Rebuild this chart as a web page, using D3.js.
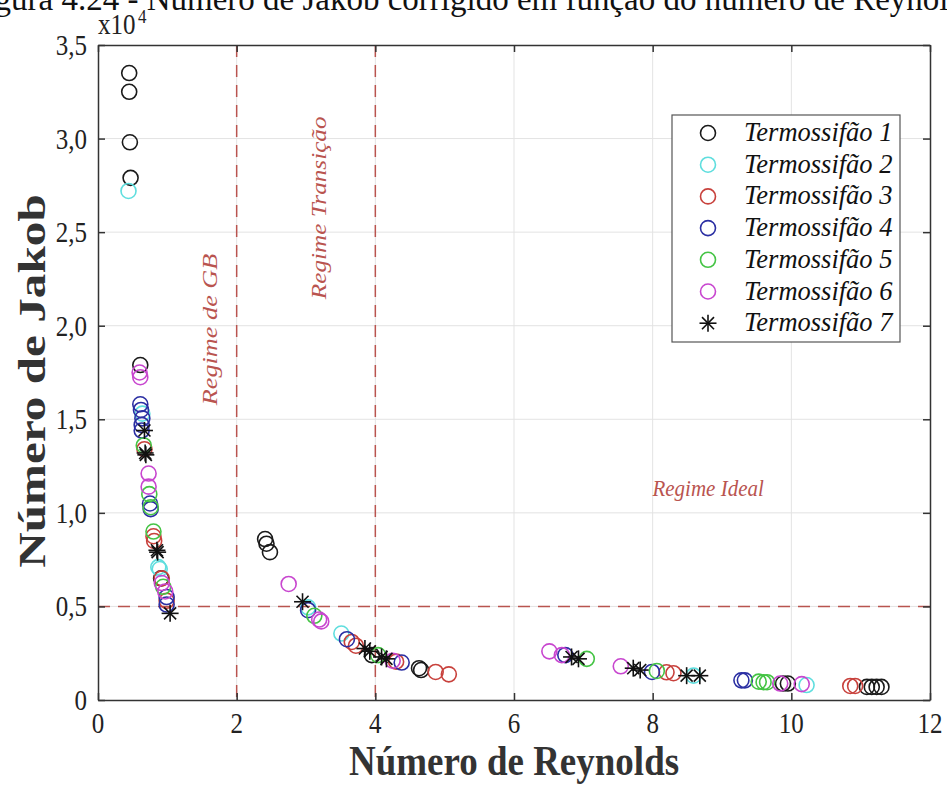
<!DOCTYPE html>
<html>
<head>
<meta charset="utf-8">
<script src="https://cdn.jsdelivr.net/npm/d3@7"></script>
<style>
  html, body { margin: 0; padding: 0; background: #fff; }
  svg { display: block; font-family: "Liberation Serif", "DejaVu Serif", serif; }
</style>
</head>
<body>
<svg id="chart" width="947" height="785"></svg>
<script>
// ---------- data (Jakob values in units of 10^4) ----------
const seriesNames = ["Termossifão 1", "Termossifão 2", "Termossifão 3", "Termossifão 4",
  "Termossifão 5", "Termossifão 6", "Termossifão 7"];
const seriesColors = ["#1a1a1a", "#5fdede", "#c8413c", "#2b2fa3", "#45c445", "#c846cf", "#111111"];

const t1 = [[0.45,3.35],[0.45,3.25],[0.46,2.98],[0.47,2.79],[0.61,1.79],[0.91,0.65],
  [2.41,0.86],[2.43,0.835],[2.48,0.79],[3.95,0.24],[4.63,0.17],[4.66,0.16],
  [9.88,0.088],[9.95,0.088],[11.09,0.07],[11.16,0.07],[11.23,0.07],[11.30,0.07]];
const t2 = [[0.44,2.72],[0.64,1.53],[0.87,0.71],[0.89,0.70],[3.03,0.495],[3.51,0.355],
  [8.59,0.13],[10.22,0.08]];
const t3 = [[0.67,1.34],[0.80,0.875],[0.81,0.85],[0.92,0.65],[0.99,0.53],[3.66,0.31],
  [3.72,0.29],[4.30,0.205],[4.87,0.15],[5.06,0.137],[8.20,0.148],[8.30,0.143],
  [10.85,0.075],[10.92,0.075]];
const t4 = [[0.61,1.58],[0.62,1.55],[0.64,1.505],[0.63,1.47],[0.63,1.44],[0.75,1.05],
  [0.76,1.02],[0.99,0.55],[0.99,0.51],[3.03,0.48],[3.59,0.325],[4.38,0.20],
  [6.74,0.24],[7.99,0.15],[9.28,0.105],[9.33,0.105]];
const t5 = [[0.66,1.36],[0.74,1.10],[0.76,1.03],[0.80,0.90],[0.94,0.605],[3.12,0.45],
  [4.04,0.24],[7.05,0.22],[8.06,0.155],[9.53,0.098],[9.60,0.095],[9.65,0.095]];
const t6 = [[0.60,1.75],[0.61,1.725],[0.73,1.21],[0.73,1.14],[0.92,0.625],[0.97,0.58],
  [2.75,0.62],[3.19,0.43],[3.22,0.42],[4.25,0.21],[6.51,0.26],[6.69,0.24],
  [7.54,0.18],[9.84,0.088],[10.15,0.085]];
const t7 = [[0.67,1.44],[0.68,1.32],[0.69,1.31],[0.85,0.80],[0.86,0.79],[1.04,0.463],
  [2.95,0.525],[3.85,0.275],[3.92,0.26],[4.09,0.23],[4.16,0.22],[6.83,0.23],
  [6.93,0.22],[7.72,0.17],[7.82,0.16],[8.49,0.13],[8.68,0.13]];
const allSeries = [t1, t2, t3, t4, t5, t6, t7];

const xTicks = [0, 2, 4, 6, 8, 10, 12];
const yTicks = [0, 0.5, 1.0, 1.5, 2.0, 2.5, 3.0, 3.5];
const regimeX = [2, 4];       // vertical dashed limits
const regimeY = [0.5];        // horizontal dashed limit

// ---------- layout ----------
const svg = d3.select("#chart");
const mLeft = 98, mRight = 930, mTop = 45, mBottom = 700;
const x = d3.scaleLinear().domain([0, 12]).range([mLeft, mRight]);
const y = d3.scaleLinear().domain([0, 3.5]).range([mBottom, mTop]);
const fmt = (d) => d === 0 ? "0" : d3.format(".1f")(d).replace(".", ",");
const regimeColor = "#b9544f";

// text placed at (px, py), stretched vertically on screen (the source fonts look tall)
function label(px, py, str, opts = {}) {
  const t = svg.append("text")
    .attr("transform", `translate(${px},${py}) scale(1,${opts.sy || 1})${opts.rot ? " rotate(-90)" : ""}`)
    .attr("text-anchor", opts.anchor || "start")
    .attr("font-size", opts.size || 20)
    .attr("fill", opts.fill || "#222")
    .text(str);
  if (opts.italic) t.attr("font-style", "italic");
  if (opts.bold) t.attr("font-weight", "bold");
  return t;
}

// caption of the figure, cut at the top of the picture
label(-33, 10, "Figura 4.24 - Número de Jakob corrigido em função do número de Reynolds",
  { size: 33, fill: "#111" });

// grid
svg.append("g").selectAll("line").data(xTicks.slice(1, -1)).join("line")
  .attr("x1", (d) => x(d)).attr("x2", (d) => x(d))
  .attr("y1", mTop).attr("y2", mBottom)
  .attr("stroke", "#e3e3e3").attr("stroke-width", 1);
svg.append("g").selectAll("line").data(yTicks.slice(1, -1)).join("line")
  .attr("y1", (d) => y(d)).attr("y2", (d) => y(d))
  .attr("x1", mLeft).attr("x2", mRight)
  .attr("stroke", "#e3e3e3").attr("stroke-width", 1);

// regime limits
svg.append("g").selectAll("line").data(regimeX).join("line")
  .attr("x1", (d) => x(d)).attr("x2", (d) => x(d))
  .attr("y1", mTop).attr("y2", mBottom)
  .attr("stroke", regimeColor).attr("stroke-width", 1.5)
  .attr("stroke-dasharray", "12,8");
svg.append("g").selectAll("line").data(regimeY).join("line")
  .attr("y1", (d) => y(d)).attr("y2", (d) => y(d))
  .attr("x1", mLeft).attr("x2", mRight)
  .attr("stroke", regimeColor).attr("stroke-width", 1.5)
  .attr("stroke-dasharray", "12,8");

// axes (ticks pointing inward, box on all sides); labels drawn below
const tickLen = 7;
svg.append("g").attr("transform", `translate(0,${mBottom})`)
  .call(d3.axisBottom(x).tickValues(xTicks).tickSizeInner(-tickLen).tickSizeOuter(0).tickFormat(""));
svg.append("g").attr("transform", `translate(0,${mTop})`)
  .call(d3.axisTop(x).tickValues(xTicks).tickSizeInner(-tickLen).tickSizeOuter(0).tickFormat(""));
svg.append("g").attr("transform", `translate(${mLeft},0)`)
  .call(d3.axisLeft(y).tickValues(yTicks).tickSizeInner(-tickLen).tickSizeOuter(0).tickFormat(""));
svg.append("g").attr("transform", `translate(${mRight},0)`)
  .call(d3.axisRight(y).tickValues(yTicks).tickSizeInner(-tickLen).tickSizeOuter(0).tickFormat(""));
svg.selectAll(".domain, .tick line").attr("stroke", "#333").attr("stroke-width", 1.5);

xTicks.forEach((d) => label(x(d), 733, d3.format("d")(d), { anchor: "middle", size: 25, sy: 1.2 }));
yTicks.forEach((d) => label(87, y(d) + 10, fmt(d), { anchor: "end", size: 25, sy: 1.2 }));

// x10^4 multiplier
label(98, 34, "x10", { size: 25, sy: 1.15 });
label(138, 23, "4", { size: 17, sy: 1.15 });

// regime labels
label(217, y(1.98), "Regime de GB", { anchor: "middle", italic: true, size: 21, sy: 1.25, rot: true, fill: regimeColor });
label(326, y(2.63), "Regime Transição", { anchor: "middle", italic: true, size: 21, sy: 1.2, rot: true, fill: regimeColor });
label(x(8.8), y(1.09), "Regime Ideal", { anchor: "middle", italic: true, size: 21, sy: 1.1, fill: regimeColor });

// markers
function drawStar(g, size) {
  const r = size / 2;
  [0, 45, 90, 135].forEach((a) => {
    const rad = (a * Math.PI) / 180;
    g.append("line")
      .attr("x1", -r * Math.cos(rad)).attr("y1", -r * Math.sin(rad))
      .attr("x2", r * Math.cos(rad)).attr("y2", r * Math.sin(rad));
  });
}

const plot = svg.append("g");
allSeries.forEach((pts, i) => {
  const g = plot.append("g")
    .attr("stroke", seriesColors[i]).attr("fill", "none").attr("stroke-width", 1.6);
  if (i < 6) {
    g.selectAll("circle").data(pts).join("circle")
      .attr("cx", (d) => x(d[0])).attr("cy", (d) => y(d[1])).attr("r", 7.5);
  } else {
    g.selectAll("g").data(pts).join("g")
      .attr("transform", (d) => `translate(${x(d[0])},${y(d[1])})`)
      .each(function () { drawStar(d3.select(this), 17); });
  }
});

// axis titles
label((mLeft + mRight) / 2, 775, "Número de Reynolds", { anchor: "middle", bold: true, size: 37, sy: 1.15, fill: "#333" });
label(45, 381, "Número de Jakob", { anchor: "middle", bold: true, size: 37, sy: 1.33, rot: true, fill: "#333" });

// legend
const lg = svg.append("g").attr("transform", "translate(672,115)");
lg.append("rect").attr("width", 228).attr("height", 227)
  .attr("fill", "#fff").attr("stroke", "#555").attr("stroke-width", 1.2);
seriesNames.forEach((name, i) => {
  const row = lg.append("g").attr("transform", `translate(0,${18 + i * 31.7})`);
  const m = row.append("g").attr("transform", "translate(36,0)")
    .attr("stroke", seriesColors[i]).attr("fill", "none").attr("stroke-width", 1.6);
  if (i < 6) m.append("circle").attr("r", 7.5);
  else drawStar(m, 17);
  row.append("text").attr("x", 72).attr("y", 8)
    .attr("font-style", "italic").attr("font-size", 26.5).attr("fill", "#111").text(name);
});
</script>
</body>
</html>
